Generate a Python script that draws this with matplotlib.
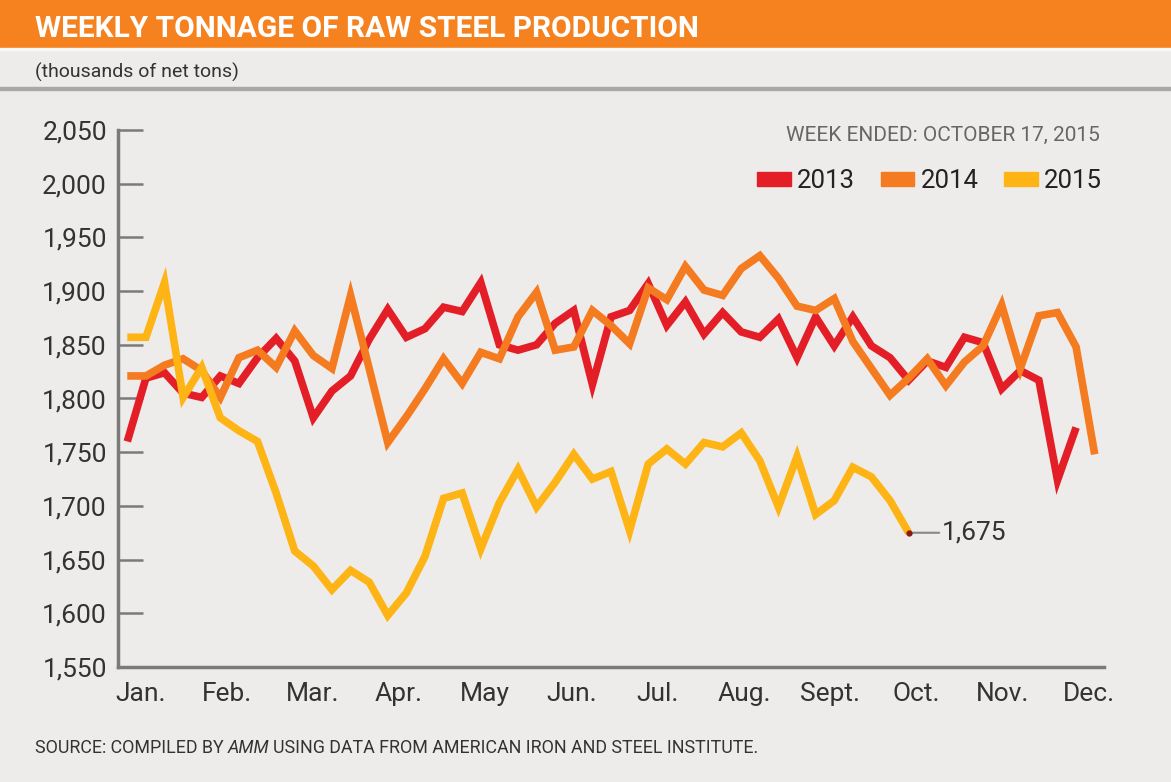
import numpy as np
import matplotlib
matplotlib.use('Agg')
import matplotlib.pyplot as plt
from matplotlib.patches import Patch, Rectangle

# weekly raw steel production, thousands of net tons
prod_2013 = [1760, 1819, 1824, 1805, 1801, 1821, 1814, 1838, 1856, 1835,
             1782, 1807, 1821, 1855, 1883, 1857, 1865, 1885, 1881, 1908,
             1850, 1845, 1850, 1870, 1882, 1813, 1876, 1882, 1907, 1868,
             1890, 1860, 1880, 1862, 1857, 1874, 1838, 1876, 1849, 1876,
             1849, 1838, 1817, 1835, 1829, 1857, 1852, 1809, 1826, 1817,
             1724, 1773]
prod_2014 = [1821, 1821, 1831, 1837, 1826, 1801, 1838, 1845, 1829, 1863,
             1840, 1828, 1896, 1828, 1759, 1783, 1809, 1837, 1814, 1843,
             1837, 1876, 1899, 1845, 1848, 1882, 1868, 1851, 1903, 1892,
             1923, 1901, 1896, 1921, 1933, 1912, 1886, 1882, 1893, 1853,
             1828, 1803, 1819, 1837, 1812, 1834, 1849, 1887, 1828, 1877,
             1880, 1848, 1748]
prod_2015 = [1857, 1857, 1908, 1801, 1829, 1782, 1770, 1760, 1712, 1658,
             1644, 1622, 1640, 1629, 1598, 1619, 1653, 1707, 1712, 1660,
             1703, 1734, 1699, 1722, 1748, 1725, 1732, 1677, 1739, 1753,
             1739, 1759, 1755, 1768, 1742, 1699, 1746, 1692, 1705, 1736,
             1727, 1705, 1675]

years = ['2013', '2014', '2015']
series = [prod_2013, prod_2014, prod_2015]
line_colors = ['#E41E26', '#F47B20', '#FDB414']
months = ['Jan.', 'Feb.', 'Mar.', 'Apr.', 'May', 'Jun.', 'Jul.', 'Aug.',
          'Sept.', 'Oct.', 'Nov.', 'Dec.']
yticks = [1550, 1600, 1650, 1700, 1750, 1800, 1850, 1900, 1950, 2000, 2050]

plt.rcParams['font.family'] = ['Roboto', 'DejaVu Sans']

W, H = 1171, 782
bg = '#EDECEA'
fig = plt.figure(figsize=(W / 100, H / 100), dpi=100, facecolor=bg)

# header band and rules
fig.patches.append(Rectangle((0, 1 - 48 / H), 1, 48 / H, transform=fig.transFigure,
                             color='#F5821F', zorder=0))
fig.patches.append(Rectangle((0, 1 - 50 / H), 1, 2 / H, transform=fig.transFigure,
                             color='#F8F8F6', zorder=0))
fig.patches.append(Rectangle((0, 1 - 90 / H), 1, 3 / H, transform=fig.transFigure,
                             color='#A8A8A6', zorder=0))
fig.text(35 / W, 1 - 29 / H, 'WEEKLY TONNAGE OF RAW STEEL PRODUCTION',
         color='white', fontsize=21.5, fontweight='bold', va='center')
fig.text(35 / W, 1 - 72 / H, '(thousands of net tons)', color='#333333',
         fontsize=14, va='center')

ax = fig.add_axes([118 / W, 1 - 667 / H, (1104 - 118) / W, (667 - 130) / H])
ax.set_facecolor('none')

for vals, c, yr in zip(series, line_colors, years):
    ax.plot(np.arange(len(vals)), vals, color=c, lw=5.5, solid_joinstyle='miter',
            solid_capstyle='butt', label=yr)

# last 2015 value callout
last_i = len(prod_2015) - 1
ax.plot(last_i, prod_2015[-1], 'o', ms=3.5, color='#8B1A10', zorder=5)
ax.annotate(f'{prod_2015[-1]:,}', xy=(last_i, prod_2015[-1]), xytext=(24, 0),
            textcoords='offset points', va='center', ha='left', fontsize=19,
            color='#333333',
            arrowprops=dict(arrowstyle='-', color='#888888', lw=1.5,
                            shrinkA=0, shrinkB=1))

ax.set_xlim(-0.5, 52.5)
ax.set_ylim(1550, 2050)
ax.set_yticks(yticks)
ax.set_yticklabels([f'{v:,}' for v in yticks])
ax.set_xticks(np.linspace(0.7, 51.7, 12))
ax.set_xticklabels(months)

for s in ['top', 'right']:
    ax.spines[s].set_visible(False)
for s in ['left', 'bottom']:
    ax.spines[s].set_color('#7A7A7A')
    ax.spines[s].set_linewidth(2.5)
ax.tick_params(axis='y', direction='in', length=18, width=1.8, color='#7A7A7A',
               pad=8, labelsize=19, labelcolor='#333333')
ax.tick_params(axis='x', length=0, pad=11, labelsize=19, labelcolor='#333333')

# legend block
fig.text(1100 / W, 1 - 135 / H, 'WEEK ENDED: OCTOBER 17, 2015', ha='right',
         va='center', fontsize=15, color='#666666')
handles = [Patch(color=c, label=yr) for c, yr in zip(line_colors, years)]
fig.legend(handles=handles, loc='center right', bbox_to_anchor=(1102 / W, 1 - 181 / H),
           ncol=3, frameon=False, fontsize=18.5, handlelength=1.3, handleheight=0.5,
           handletextpad=0.25, columnspacing=1.0, borderaxespad=0, borderpad=0,
           labelcolor='#222222')

# source line with italic AMM
r = fig.canvas.get_renderer()
ys = 1 - 748 / H
t1 = fig.text(35 / W, ys, 'SOURCE: COMPILED BY', fontsize=12.9, color='#333333', va='center')
x1 = t1.get_window_extent(r).x1 + 4
t2 = fig.text(x1 / W, ys, 'AMM', fontsize=12.9, color='#333333', va='center',
              style='italic')
x2 = t2.get_window_extent(r).x1 + 4
fig.text(x2 / W, ys, 'USING DATA FROM AMERICAN IRON AND STEEL INSTITUTE.',
         fontsize=12.9, color='#333333', va='center')

fig.savefig('out.png', dpi=100, facecolor=bg)
